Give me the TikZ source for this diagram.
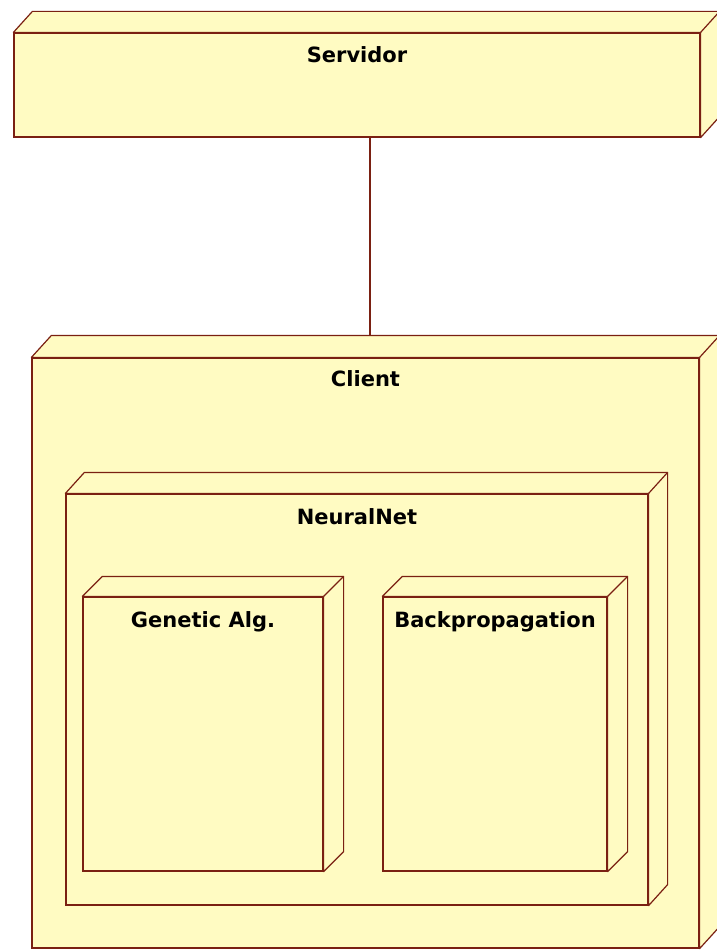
\documentclass[tikz,border=0pt]{standalone}
\usepackage{fontspec}
\setmainfont{DejaVu Sans}
\usetikzlibrary{positioning}
\definecolor{nodefill}{RGB}{255,251,194}
\definecolor{nodeline}{RGB}{122,32,18}

\tikzset{
  umlnode/.style={rectangle, draw=nodeline, fill=nodefill, line width=1.2pt, inner sep=0pt},
  face/.style={draw=nodeline, fill=nodefill, line width=1.2pt, line join=round},
  title/.style={inner sep=0pt, text height=15pt, text depth=0pt, font=\fontsize{21}{25}\selectfont\bfseries},
  link/.style={draw=nodeline, line width=1.2pt}
}

% top and right faces of a node box
\newcommand{\boxfaces}[3]{%
  \filldraw[face] (#1.north west) -- ++(#2,#3) -- ([shift={(#2,#3)}]#1.north east)
    -- ([shift={(#2,#3)}]#1.south east) -- (#1.south east) -- (#1.north east) -- cycle;
  \draw[face] (#1.north east) -- ++(#2,#3);
  \coordinate (#1-back) at ([shift={(#2,#3)}]#1.north west);
}

\begin{document}
\begin{tikzpicture}[x=1pt, y=-1pt]
  \useasboundingbox (0,0) rectangle (716,950);

  % server
  \node (srv) [umlnode, minimum width=686pt, minimum height=104pt] at (357, 85) {};
  \boxfaces{srv}{19}{-21}
  \node (srvT) [title] at ([yshift=-23pt]srv.north) {Servidor};

  % client with its nested nodes
  \node (cli) [umlnode, minimum width=667pt, minimum height=590pt] at (365.5, 653) {};
  \boxfaces{cli}{20}{-22}
  \node (cliT) [title] at ([yshift=-22pt]cli.north) {Client};

  \node (nn) [umlnode, minimum width=582pt, minimum height=411pt] at (357, 699.5) {};
  \boxfaces{nn}{19}{-21}
  \node (nnT) [title] at ([yshift=-24pt]nn.north) {NeuralNet};

  \node (ga) [umlnode, minimum width=240pt, minimum height=274pt] at (203, 734) {};
  \boxfaces{ga}{20}{-20}
  \node (gaT) [title] at ([yshift=-24pt]ga.north) {Genetic Alg.};

  \node (bp) [umlnode, minimum width=224pt, minimum height=274pt] at (495, 734) {};
  \boxfaces{bp}{20}{-20}
  \node (bpT) [title] at ([yshift=-24pt]bp.north) {Backpropagation};

  % connection
  \coordinate (srvLink) at ([xshift=13pt]srv.south);
  \draw[link] (srvLink) -- (srvLink |- cli-back);
\end{tikzpicture}
\end{document}
